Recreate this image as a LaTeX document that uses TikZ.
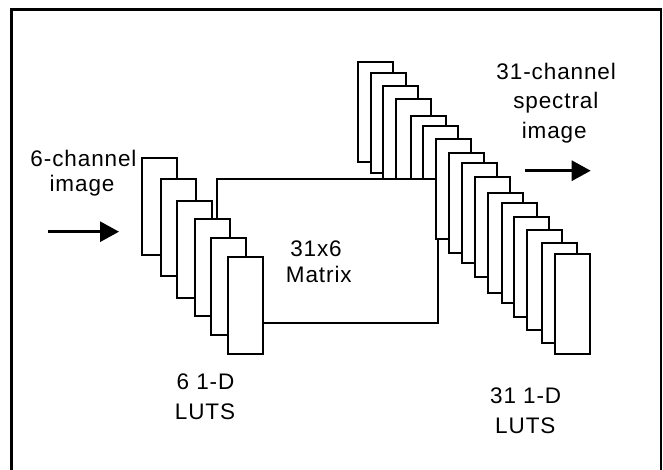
\documentclass[tikz,border=0pt]{standalone}
\usepackage{fontspec}
\setmainfont{Liberation Sans}
\usetikzlibrary{arrows.meta}
\tikzset{
  lutbox/.style={draw, fill=white, line width=2pt, minimum width=35pt, inner sep=0pt, outer sep=0pt, anchor=north west},
  lutL/.style={lutbox, minimum height=97pt},
  lutR/.style={lutbox, minimum height=100pt},
  matbox/.style={draw, fill=white, line width=2pt, inner sep=0pt, outer sep=0pt, anchor=north west},
  lbl/.style={font=\fontsize{22.5}{28}\selectfont\addfontfeature{LetterSpace=4}, inner sep=0pt, anchor=base},
  arr/.style={line width=3pt, -{Triangle[length=19pt,width=20pt]}},
  framel/.style={line width=2.5pt}
}
\begin{document}
\begin{tikzpicture}[x=1pt,y=-1pt]
\useasboundingbox (0,0) rectangle (663,470);
% right stack, part behind the matrix
\node[lutR] (r1) at (357.7,62.3) {};
\node[lutR] (r2) at (371,72.7) {};
\node[lutR] (r3) at (383.3,86) {};
\node[lutR] (r4) at (396,99.3) {};
\node[lutR] (r5) at (410.7,115.7) {};
\node[lutR] (r6) at (423.3,126) {};
% matrix
\node[matbox, minimum width=221.6pt, minimum height=143.7pt] (mat) at (216.7,179.3) {};
% left stack
\node[lutL] (l1) at (141.7,158.3) {};
\node[lutL] (l2) at (160.7,179.3) {};
\node[lutL] (l3) at (176.7,201) {};
\node[lutL] (l4) at (195,219.3) {};
\node[lutL] (l5) at (211,237.7) {};
\node[lutL] (l6) at (227.7,256.7) {};
% right stack, in front of the matrix
\node[lutR] (r7) at (435.7,139.3) {};
\node[lutR] (r8) at (448.7,153.3) {};
\node[lutR] (r9) at (461.7,163.3) {};
\node[lutR] (r10) at (475,176.7) {};
\node[lutR] (r11) at (488.3,192.7) {};
\node[lutR] (r12) at (501.7,203.3) {};
\node[lutR] (r13) at (514.3,216.7) {};
\node[lutR] (r14) at (527.3,230) {};
\node[lutR] (r15) at (541.7,242.7) {};
\node[lutR] (r16) at (555,254) {};
% labels
\node[lbl] (in1) at (83.5,166.7) {6-channel};
\node[lbl] (in2) at (82,192) {image};
\node[lbl] (out1) at (556.2,79.5) {31-channel};
\node[lbl] (out2) at (555.8,109) {spectral};
\node[lbl] (out3) at (554.2,138.5) {image};
\node[lbl] (m1) at (316,256.7) {31x6};
\node[lbl] (m2) at (318.8,282.3) {Matrix};
\node[lbl] (ll1) at (205.5,389.3) {6 1-D};
\node[lbl] (ll2) at (205,419.3) {LUTS};
\node[lbl] (rl1) at (525.7,403.3) {31 1-D};
\node[lbl] (rl2) at (525.3,433.3) {LUTS};
% arrows
\coordinate (ia) at (48.3,231.7);
\coordinate (ib) at (119,231.7);
\coordinate (oa) at (525,170.7);
\coordinate (ob) at (590.7,170.7);
\draw[arr] (ia) -- (ib);
\draw[arr] (oa) -- (ob);
% frame
\draw[framel] (11.3,471) -- (11.3,9.3) -- (661,9.3) -- (661,471);
\end{tikzpicture}
\end{document}
